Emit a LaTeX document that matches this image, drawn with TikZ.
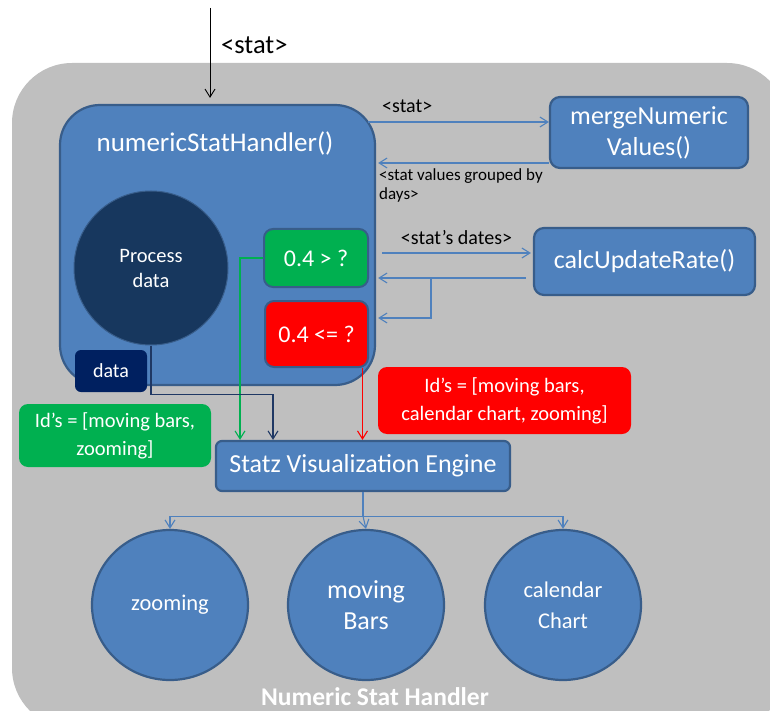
\documentclass[tikz,border=0pt]{standalone}
\usepackage{fontspec}
\setmainfont{Carlito}
\usetikzlibrary{arrows.meta,positioning,calc,shapes.geometric}
\definecolor{boxblue}{HTML}{4F81BD}
\definecolor{boxedge}{HTML}{385D8A}
\definecolor{bggrey}{HTML}{BFBFBF}
\definecolor{okgreen}{HTML}{00B050}
\definecolor{badred}{HTML}{FF0000}
\definecolor{navy}{HTML}{17375E}
\definecolor{darknavy}{HTML}{002060}
\definecolor{navyline}{HTML}{1F3864}
\tikzset{
  fnbox/.style  = {draw=boxedge, line width=2.2pt, fill=boxblue, rounded corners=10pt,
                   inner sep=0pt, align=center, text=white, font=\fontsize{26}{31}\selectfont},
  test/.style   = {draw=boxedge, line width=2pt, rounded corners=9pt, inner sep=0pt,
                   align=center, text=white, font=\fontsize{24}{28}\selectfont},
  note/.style   = {rounded corners=9pt, inner sep=0pt, align=center, text=white,
                   font=\fontsize{20.5}{28}\selectfont},
  viz/.style    = {ellipse, draw=boxedge, line width=2.2pt, fill=boxblue, inner sep=0pt,
                   minimum width=156pt, minimum height=150pt, align=center, text=white,
                   font=\fontsize{22.5}{31}\selectfont},
  tip/.style    = {-{Straight Barb[length=8pt,width=10pt]}, line width=1.1pt},
  flow/.style   = {tip, draw=boxblue},
  lbl/.style    = {inner sep=0pt, text=black, font=\fontsize{20}{24}\selectfont},
}
\begin{document}
\begin{tikzpicture}[x=1pt, y=-1pt]
  \clip (0,0) rectangle (770,711);
  \useasboundingbox (0,0) rectangle (770,711);
  % container
  \node[fill=bggrey, rounded corners=60pt, minimum width=775pt, minimum height=665pt,
        inner sep=0pt] (frame) at (399.5,395.5) {};
  \node[text=white, font=\bfseries\fontsize{25.5}{28}\selectfont] (frametitle) at (375,697) {Numeric Stat Handler};
  % handler and its parts
  \node[draw=boxedge, line width=2.2pt, fill=boxblue, rounded corners=40pt, inner sep=0pt,
        minimum width=315pt, minimum height=280pt] (nsh) at (217.5,245) {};
  \node[text=white, font=\fontsize{27}{30}\selectfont] (nshtitle) at (215,143) {numericStatHandler()};
  \node[circle, fill=navy, draw=boxedge, line width=1pt, minimum size=154pt, inner sep=0pt,
        align=center, text=white, font=\fontsize{20.5}{25}\selectfont] (proc) at (151,268) {Process\\data};
  \node[fill=darknavy, rounded corners=6pt, minimum width=72pt, minimum height=42pt, inner sep=0pt,
        text=white, font=\fontsize{20}{24}\selectfont] (data) at (111,371) {data};
  \node[test, fill=okgreen, minimum width=104pt, minimum height=58pt] (gt) at (316,258) {0.4 > ?};
  \node[test, fill=badred, minimum width=103pt, minimum height=66pt] (le) at (316.5,334) {0.4 <= ?};
  % helper functions
  \node[fnbox, minimum width=198pt, minimum height=71pt] (merge) at (649,132.5) {mergeNumeric\\Values()};
  \node[fnbox, minimum width=221pt, minimum height=67pt] (calc) at (644.5,261.5) {calcUpdateRate()};
  % engine and views
  \node[fnbox, rounded corners=6pt, minimum width=294pt, minimum height=50pt] (engine) at (363,466) {Statz Visualization Engine};
  \node[note, fill=okgreen, minimum width=192pt, minimum height=63pt] (gnote) at (115,435.5) {Id’s = [moving bars,\\zooming]};
  \node[note, fill=badred, minimum width=253pt, minimum height=67pt] (rnote) at (504.5,400.5) {Id’s = [moving bars,\\calendar chart, zooming]};
  \node[viz] (zoom) at (170,605) {zooming};
  \node[viz, font=\fontsize{26}{31}\selectfont] (bars) at (366,605) {moving\\Bars};
  \node[viz] (cal) at (563,605) {calendar\\Chart};
  % incoming stat
  \coordinate (src) at (210,8);
  \draw[tip, line width=0.9pt] (src) -- ([yshift=6pt]src |- nsh.north);
  \node[lbl, font=\fontsize{26.5}{30}\selectfont, anchor=west] (instat) at (221,45) {<stat>};
  % merge calls
  \coordinate (m1) at ([yshift=10.5pt]merge.west);
  \coordinate (m2) at ([yshift=-30.5pt]merge.west);
  \draw[flow] ([xshift=-8pt]nsh.east |- m1) -- (m1);
  \node[lbl, anchor=west] (statlbl) at (382,106) {<stat>};
  \draw[flow] (m2) -- ([xshift=2pt]nsh.east |- m2);
  \node[lbl, anchor=north west, align=left, font=\fontsize{17}{19}\selectfont] (grouped) at (379,168) {<stat values grouped by\\days>};
  % rate calls
  \coordinate (c1) at ([yshift=8.5pt]calc.west);
  \coordinate (c2) at ([yshift=-16.5pt,xshift=-7pt]calc.west);
  \draw[flow] ([xshift=6pt]nsh.east |- c1) -- ([xshift=-2pt]c1) node[midway, above=8pt, lbl] {<stat’s dates>};
  \draw[flow] (c2) -- ([xshift=2pt]nsh.east |- c2);
  \coordinate (br) at (431,278);
  \draw[flow] (br) |- ([xshift=2pt,yshift=16pt]nsh.east |- le);
  % to the engine
  \draw[tip, okgreen] (gt.west) -| ([xshift=-123pt]engine.north);
  \draw[tip, navyline] (proc.south) -- ++(0,49) -| ([xshift=-90pt]engine.north);
  \draw[tip, badred] ([xshift=46pt]le.south) -- ([xshift=46pt]le.south |- engine.north);
  % to the views
  \coordinate (hub) at ([yshift=-24pt]engine.south);
  \draw[draw=boxblue, line width=1.1pt] (engine.south) -- (hub);
  \draw[flow] (hub) -| (zoom.north);
  \draw[flow] (hub) -- (bars.north);
  \draw[flow] (hub) -| (cal.north);
\end{tikzpicture}
\end{document}
